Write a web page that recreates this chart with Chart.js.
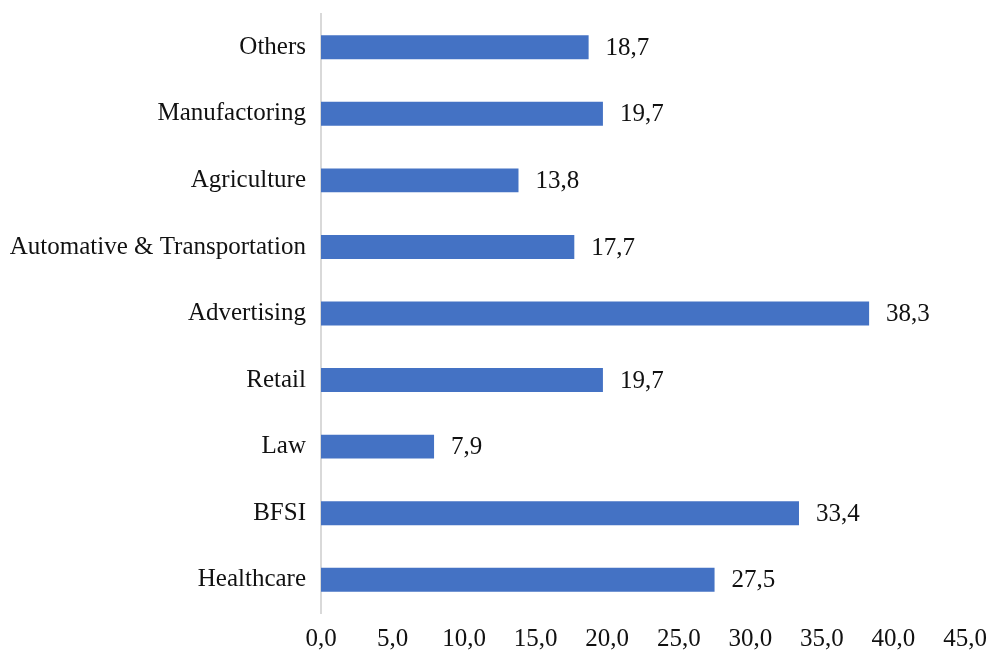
<!DOCTYPE html>
<html>
<head>
<meta charset="utf-8">
<script src="https://cdn.jsdelivr.net/npm/chart.js@4"></script>
<style>
  html, body { margin: 0; padding: 0; background: #fff; }
  #wrap { width: 990px; height: 653px; }
</style>
</head>
<body>
<div id="wrap"><canvas id="sectorChart"></canvas></div>
<script>
// Datos (de arriba a abajo)
const categories = ['Others', 'Manufactoring', 'Agriculture', 'Automative & Transportation',
    'Advertising', 'Retail', 'Law', 'BFSI', 'Healthcare'];
const values = [18.7, 19.7, 13.8, 17.7, 38.3, 19.7, 7.9, 33.4, 27.5];
const xTicks = [0, 5, 10, 15, 20, 25, 30, 35, 40, 45];

const fmt = v => v.toFixed(1).replace('.', ',');
const fontFamily = '"Liberation Serif", "Times New Roman", serif';
const fontSize = 25;

// Etiquetas de valor al final de cada barra
const valueLabels = {
    id: 'valueLabels',
    afterDatasetsDraw(chart) {
        const ctx = chart.ctx;
        const meta = chart.getDatasetMeta(0);
        ctx.save();
        ctx.font = fontSize + 'px ' + fontFamily;
        ctx.fillStyle = '#111';
        ctx.textAlign = 'left';
        ctx.textBaseline = 'middle';
        meta.data.forEach((bar, i) => {
            ctx.fillText(fmt(values[i]), bar.x + 17, bar.y + 1);
        });
        ctx.restore();
    }
};

const ctx = document.getElementById('sectorChart').getContext('2d');
new Chart(ctx, {
    type: 'bar',
    data: {
        labels: categories,
        datasets: [{
            data: values,
            backgroundColor: '#4472C4',
            borderWidth: 0,
            categoryPercentage: 1,
            barPercentage: 0.36
        }]
    },
    options: {
        indexAxis: 'y',
        responsive: true,
        maintainAspectRatio: false,
        animation: false,
        layout: { padding: { top: 14, right: 0, bottom: 0, left: 0 } },
        plugins: {
            legend: { display: false },
            tooltip: { enabled: false }
        },
        scales: {
            x: {
                min: 0,
                max: 45,
                afterBuildTicks: s => { s.ticks = xTicks.map(v => ({ value: v })); },
                afterFit: s => { s.height = 40; s.paddingRight = 25; },
                grid: { display: false },
                border: { display: false },
                ticks: {
                    color: '#111',
                    padding: 3,
                    font: { family: fontFamily, size: fontSize },
                    callback: v => fmt(v)
                }
            },
            y: {
                afterFit: s => { s.width = 321; s.paddingTop = 0; s.paddingBottom = 0; },
                grid: { display: false },
                border: { display: true, color: '#d9d9d9', width: 2 },
                ticks: {
                    color: '#111',
                    padding: 7,
                    font: { family: fontFamily, size: fontSize }
                }
            }
        }
    },
    plugins: [valueLabels]
});
</script>
</body>
</html>
